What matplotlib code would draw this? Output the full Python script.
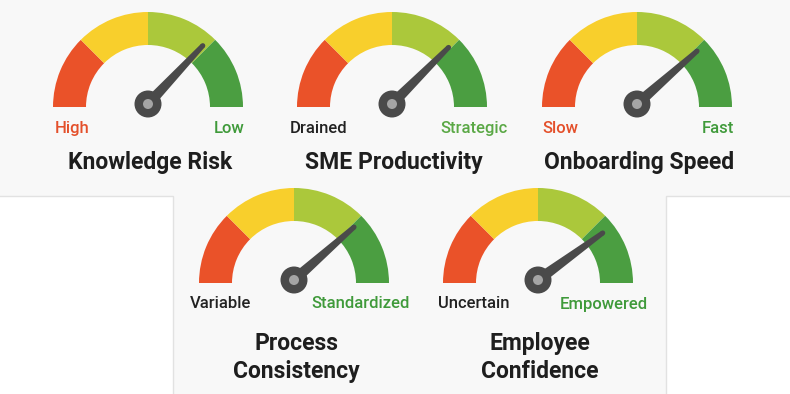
import numpy as np
import matplotlib.pyplot as plt
from matplotlib.patches import Wedge, Circle, Polygon, Rectangle

# dados dos medidores
titulos = [['Knowledge Risk'], ['SME Productivity'], ['Onboarding Speed'],
           ['Process', 'Consistency'], ['Employee', 'Confidence']]
rotulo_esq = ['High', 'Drained', 'Slow', 'Variable', 'Uncertain']
rotulo_dir = ['Low', 'Strategic', 'Fast', 'Standardized', 'Empowered']
cor_esq = ['#e4502b', '#222222', '#e4502b', '#222222', '#222222']
cor_dir = ['#3f9a3a', '#5aa845', '#3f9a3a', '#3f9a3a', '#3f9a3a']
valores = [74, 75, 77, 77, 80]  # posicao do ponteiro (0-100)

# cores das faixas do arco
cores_faixas = ['#ea5229', '#f8cf2c', '#abc83b', '#4b9e41']

# layout (pixels da imagem)
W, H = 790, 394
centros = [(148, 107), (392, 107), (637, 107), (294, 283), (538, 283)]
desloc_esq = [-76, -73, -77, -73, -64]
desloc_dir = [81, 82, 81, 67, 66]
raio = 95
espessura = 33

fig = plt.figure(figsize=(W / 100, H / 100), dpi=100)
ax = fig.add_axes([0, 0, 1, 1])
ax.set_xlim(0, W)
ax.set_ylim(0, H)
ax.set_aspect('equal')
ax.axis('off')
fig.patch.set_facecolor('#f8f8f8')

# caixas brancas embaixo
ax.add_patch(Rectangle((-2, -2), 175, H - 196 + 2, facecolor='white',
                       edgecolor='#e2e2e2', lw=1))
ax.add_patch(Rectangle((666, -2), 130, H - 196 + 2, facecolor='white',
                       edgecolor='#e2e2e2', lw=1))

fonte = 'Roboto'

for i in range(len(titulos)):
    cx, cy_img = centros[i]
    cy = H - cy_img
    limites = [180, 135, 90, 45, 0]
    for k in range(4):
        ax.add_patch(Wedge((cx, cy), raio, limites[k + 1], limites[k],
                           width=espessura, facecolor=cores_faixas[k],
                           edgecolor='none'))

    # ponteiro
    ang = np.deg2rad(180 - valores[i] * 1.8)
    px, py = cx, cy + 3
    comp = 80
    d = np.array([np.cos(ang), np.sin(ang)])
    n = np.array([-d[1], d[0]])
    base = np.array([px, py])
    ponta = base + d * comp
    pts = [base + n * 5.5, ponta + n * 2.5, ponta - n * 2.5, base - n * 5.5]
    ax.add_patch(Polygon(pts, closed=True, facecolor='#4a4a4a', edgecolor='none'))
    ax.add_patch(Circle(ponta, 2.5, facecolor='#4a4a4a', edgecolor='none'))
    ax.add_patch(Circle((px, py), 13.5, facecolor='#4a4a4a', edgecolor='none'))
    ax.add_patch(Circle((px, py), 5, facecolor='#a5a5a5', edgecolor='none'))

    # rotulos das pontas
    ax.text(cx + desloc_esq[i], cy - 25.5, rotulo_esq[i], color=cor_esq[i],
            fontsize=12, fontweight='medium', family=fonte,
            ha='center', va='baseline')
    ax.text(cx + desloc_dir[i], cy - 25.5, rotulo_dir[i], color=cor_dir[i],
            fontsize=12, fontweight='medium', family=fonte,
            ha='center', va='baseline')

    # titulo (uma ou duas linhas)
    if len(titulos[i]) == 1:
        ax.text(cx + 2, cy - 62, titulos[i][0], color='#1e1e1e', fontsize=16.5,
                fontweight='bold', family=fonte, ha='center', va='baseline')
    else:
        for j, linha in enumerate(titulos[i]):
            ax.text(cx + 2, cy - 67 - 28 * j, linha, color='#1e1e1e',
                    fontsize=16.5, fontweight='bold', family=fonte,
                    ha='center', va='baseline')

fig.savefig('out.png', dpi=100, facecolor=fig.get_facecolor())
